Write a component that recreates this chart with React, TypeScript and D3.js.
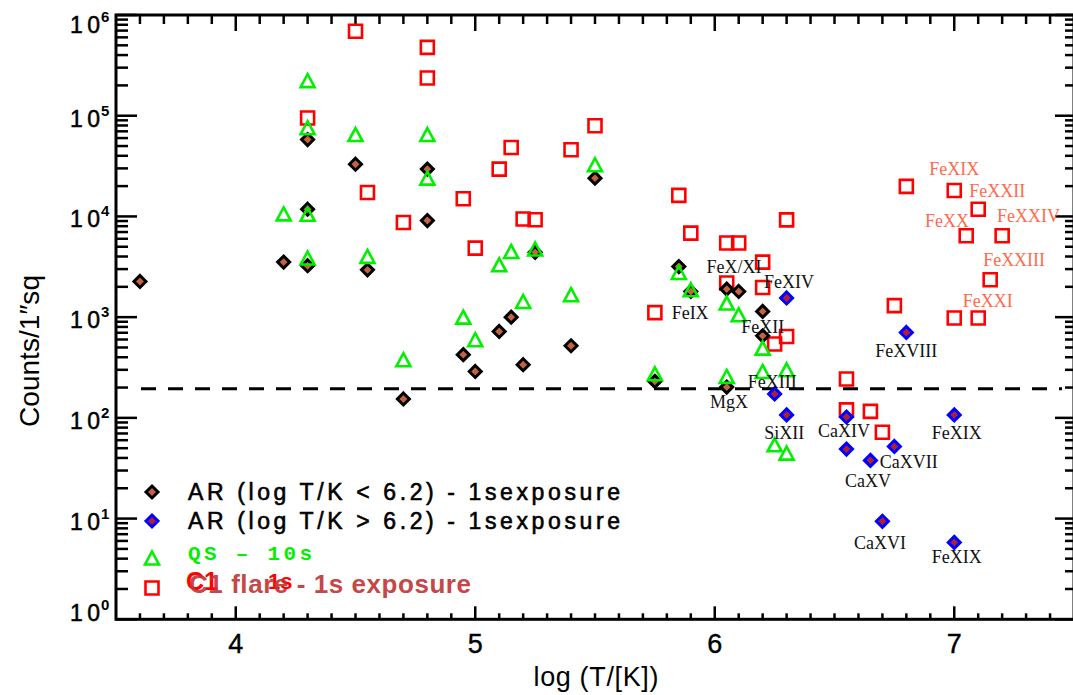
import React from 'react';
import * as d3 from 'd3';

const W = 1073;
const H = 695;

// AR (log T/K < 6.2)
const AR_LOW_T = [3.60, 4.20, 4.30, 4.30, 4.30, 4.50, 4.80, 4.80, 5.50, 4.55, 5.25, 4.70, 4.95, 5.00, 5.10, 5.15, 5.20, 5.40, 5.75, 5.85, 5.90, 6.05, 6.10, 6.20, 6.20, 6.05];
const AR_LOW_C = [2260, 3520, 3240, 5.8e4, 1.18e4, 3.3e4, 2.95e4, 9100, 2.4e4, 2950, 4400, 154, 424, 289, 721, 1000, 337, 520, 230, 3180, 1800, 1900, 1800, 1140, 653, 202];

// AR (log T/K > 6.2)
const AR_HIGH_T = [6.30, 6.80, 6.25, 6.30, 6.55, 6.55, 6.75, 6.65, 7.00, 6.70, 7.00];
const AR_HIGH_C = [1550, 705, 173, 107, 102, 49, 52, 37.8, 107, 9.4, 5.8];

// QS - 10s
const QS_T = [4.20, 4.30, 4.30, 4.30, 4.50, 4.30, 4.80, 4.80, 5.50, 4.55, 4.70, 4.95, 5.00, 5.10, 5.15, 5.20, 5.25, 5.40, 5.75, 5.85, 5.90, 6.05, 6.10, 6.20, 6.05, 6.20, 6.30, 6.25, 6.30];
const QS_C = [1.06e4, 1.05e4, 2.23e5, 7.6e4, 6.5e4, 3860, 6.5e4, 2.4e4, 3.26e4, 4010, 378, 1000, 597, 3310, 4490, 1430, 4750, 1670, 274, 2780, 1870, 1380, 1056, 493, 258, 289, 300, 54, 44.7];

// C1 flare - 1s exposure
const FL_T = [4.50, 4.30, 4.80, 4.80, 4.55, 4.70, 4.95, 5.10, 5.15, 5.20, 5.25, 5.40, 5.50, 5.85, 5.90, 5.00, 5.75, 6.05, 6.10, 6.20, 6.05, 6.20, 6.25, 6.30, 6.55, 6.55, 6.65, 6.70, 6.75, 7.00, 7.10, 7.15, 7.05, 7.20, 6.30, 6.80, 7.00, 7.10];
const FL_C = [6.9e5, 9.5e4, 4.77e5, 2.37e5, 1.73e4, 8700, 1.5e4, 2.95e4, 4.84e4, 9420, 9270, 4.6e4, 7.95e4, 1.62e4, 6830, 4850, 1110, 5450, 5450, 3520, 2180, 1970, 541, 643, 243, 120, 116, 72, 1300, 980, 980, 2350, 6430, 6430, 9250, 1.99e4, 1.81e4, 1.18e4];

// Line labels (black)
const LBL_NAMES = ['FeX/XI', 'FeIX', 'FeXIV', 'FeXII', 'FeXIII', 'MgX', 'SiXII', 'CaXIV', 'FeXIX', 'CaXVII', 'CaXV', 'CaXVI', 'FeXIX', 'FeXVIII'];
const LBL_T = [6.08, 5.82, 6.31, 6.20, 6.24, 6.06, 6.29, 6.54, 7.01, 6.81, 6.64, 6.69, 7.01, 6.80];
const LBL_C = [2740, 960, 1950, 700, 198, 125, 62, 65, 62, 32, 20.7, 5.0, 3.6, 400];
const LBL_ANCHOR = ['middle', 'start', 'middle', 'middle', 'middle', 'middle', 'middle', 'middle', 'middle', 'middle', 'middle', 'middle', 'middle', 'middle'];

// Flare line labels (salmon)
const FLBL_NAMES = ['FeXIX', 'FeXXII', 'FeXXIV', 'FeXX', 'FeXXIII', 'FeXXI'];
const FLBL_T = [7.00, 7.18, 7.31, 6.97, 7.25, 7.14];
const FLBL_C = [25800, 15600, 8900, 7900, 3220, 1260];

const X_MAJOR = [4, 5, 6, 7];
const Y_EXP = [0, 1, 2, 3, 4, 5, 6];
const THRESHOLD = 195;

const LEGEND_AR_LOW = 'AR (log T/K < 6.2) - 1sexposure';
const LEGEND_AR_HIGH = 'AR (log T/K > 6.2) - 1sexposure';
const LEGEND_QS = 'QS \u2013 10s';
const LEGEND_FL = 'C1 flare - 1s exposure';

const L = 116, R = 1074, T = 15, B = 619.3;

const BROWN = '#c4643e';
const DRED = '#b22030';
const GREEN = '#00f000';
const RED = '#ff0000';
const SALMON = '#ff6a4d';

const diamond = (r: number) => `M0,${-r}L${r},0L0,${r}L${-r},0Z`;
const triangle = (w: number, h: number) => `M0,${-h}L${w},${h}L${-w},${h}Z`;
const square = (s: number) => `M${-s / 2},${-s / 2}h${s}v${s}h${-s}Z`;

export default function App() {
  const x = d3.scaleLinear().domain([3.5, 7.5]).range([L, R]);
  const y = d3.scaleLog().domain([1, 1e6]).range([B, T]);

  const xMinor: number[] = d3.range(36, 75).map((v) => v / 10).filter((v) => Math.abs(v - Math.round(v)) > 1e-6);
  const yMinor: number[] = [];
  for (let e = 0; e < 6; e++) for (let k = 2; k <= 9; k++) yMinor.push(k * Math.pow(10, e));

  const sansF = 'Liberation Sans, Arial, sans-serif';
  const serifF = 'Liberation Serif, Times New Roman, serif';

  return (
    <svg width={W} height={H} style={{ position: 'absolute', left: 0, top: 0, display: 'block', background: '#fff' }}>
      <rect x={0} y={0} width={W} height={H} fill="#fff" />
      {/* frame */}
      <rect x={L} y={T} width={R - L} height={B - T} fill="none" stroke="#000" strokeWidth={3} />
      {/* x ticks */}
      {X_MAJOR.map((v) => (
        <g key={'xm' + v}>
          <line x1={x(v)} x2={x(v)} y1={B} y2={B - 13} stroke="#000" strokeWidth={2.5} />
          <line x1={x(v)} x2={x(v)} y1={T} y2={T + 16} stroke="#000" strokeWidth={2.5} />
          <text x={x(v)} y={653} textAnchor="middle" fontFamily={sansF} fontSize={27} fill="#000" stroke="#000" strokeWidth={0.4}>{v}</text>
        </g>
      ))}
      {xMinor.map((v) => (
        <g key={'xn' + v}>
          <line x1={x(v)} x2={x(v)} y1={B} y2={B - 6} stroke="#000" strokeWidth={2.5} />
          <line x1={x(v)} x2={x(v)} y1={T} y2={T + 9} stroke="#000" strokeWidth={2.5} />
        </g>
      ))}
      {/* y ticks */}
      {Y_EXP.map((e) => {
        const py = y(Math.pow(10, e));
        const base = e === 6 ? 33 : e === 0 ? 621 : py + 11;
        return (
          <g key={'ym' + e}>
            <line x1={L} x2={L + 21} y1={py} y2={py} stroke="#000" strokeWidth={2.5} />
            <line x1={R} x2={R - 19} y1={py} y2={py} stroke="#000" strokeWidth={2.5} />
            <text x={70} y={base} fontFamily={sansF} fontSize={23} fill="#000" stroke="#000" strokeWidth={0.5} textLength={30} lengthAdjust="spacing">10</text>
            <text x={101} y={base - 11} fontFamily={sansF} fontSize={15} fontWeight="bold" fill="#000">{e}</text>
          </g>
        );
      })}
      {yMinor.map((v) => (
        <g key={'yn' + v}>
          <line x1={L} x2={L + 12} y1={y(v)} y2={y(v)} stroke="#000" strokeWidth={2.5} />
          <line x1={R} x2={R - 9} y1={y(v)} y2={y(v)} stroke="#000" strokeWidth={2.5} />
        </g>
      ))}
      {/* threshold dashed line */}
      <line x1={141} x2={1062} y1={y(THRESHOLD)} y2={y(THRESHOLD)} stroke="#000" strokeWidth={3} strokeDasharray="15 12" />

      {/* flare squares */}
      {FL_T.map((t, i) => (
        <path key={'fl' + i} d={square(13)} transform={`translate(${x(t)},${y(FL_C[i])})`} fill="none" stroke={RED} strokeWidth={2.6} />
      ))}
      {/* AR low */}
      {AR_LOW_T.map((t, i) => (
        <path key={'al' + i} d={diamond(6)} transform={`translate(${x(t)},${y(AR_LOW_C[i])})`} fill={BROWN} stroke="#000" strokeWidth={3} strokeLinejoin="miter" />
      ))}
      {/* AR high */}
      {AR_HIGH_T.map((t, i) => (
        <path key={'ah' + i} d={diamond(6)} transform={`translate(${x(t)},${y(AR_HIGH_C[i])})`} fill={DRED} stroke="#0000ff" strokeWidth={3} />
      ))}
      {/* QS triangles */}
      {QS_T.map((t, i) => (
        <path key={'qs' + i} d={triangle(7, 6.5)} transform={`translate(${x(t)},${y(QS_C[i])})`} fill="none" stroke={GREEN} strokeWidth={2.6} strokeLinejoin="miter" />
      ))}

      {/* labels */}
      {LBL_NAMES.map((n, i) => (
        <text key={'lb' + i} x={x(LBL_T[i])} y={y(LBL_C[i])} textAnchor={LBL_ANCHOR[i] as any} fontFamily={serifF} fontSize={18} fill="#111">{n}</text>
      ))}
      {FLBL_NAMES.map((n, i) => (
        <text key={'fb' + i} x={x(FLBL_T[i])} y={y(FLBL_C[i])} textAnchor="middle" fontFamily={serifF} fontSize={18} fill={SALMON}>{n}</text>
      ))}

      {/* legend */}
      <path d={diamond(6)} transform="translate(152,492)" fill={BROWN} stroke="#000" strokeWidth={3} />
      <text x={188} y={500} fontFamily={sansF} fontSize={23} fill="#000" stroke="#000" strokeWidth={0.6} textLength={432} lengthAdjust="spacing">{LEGEND_AR_LOW}</text>
      <path d={diamond(6)} transform="translate(152,521)" fill={DRED} stroke="#0000ff" strokeWidth={3} />
      <text x={188} y={529} fontFamily={sansF} fontSize={23} fill="#000" stroke="#000" strokeWidth={0.6} textLength={432} lengthAdjust="spacing">{LEGEND_AR_HIGH}</text>
      <path d={triangle(7, 6.5)} transform="translate(152,558)" fill="none" stroke={GREEN} strokeWidth={2.6} />
      <text x={188} y={560} fontFamily="Liberation Mono, Courier New, monospace" fontWeight="bold" fontSize={21} fill={GREEN} textLength={124} lengthAdjust="spacing" style={{ whiteSpace: 'pre' }}>{LEGEND_QS}</text>
      <path d={square(13)} transform="translate(152,588)" fill="none" stroke={RED} strokeWidth={2.6} />
      <text x={186} y={590} fontFamily={sansF} fontWeight="bold" fontSize={25} fill={RED}>C1</text>
      <text x={268} y={589} fontFamily={sansF} fontWeight="bold" fontSize={22} fill={RED}>1s</text>
      <text x={189} y={593} fontFamily={sansF} fontWeight="bold" fontSize={26} fill="#c03535" fillOpacity={0.93} textLength={282} lengthAdjust="spacing">{LEGEND_FL}</text>

      {/* axis titles */}
      <text x={596} y={686} textAnchor="middle" fontFamily={sansF} fontSize={27} fill="#000" textLength={125} lengthAdjust="spacing">log (T/[K])</text>
      <text transform="translate(39,351) rotate(-90)" textAnchor="middle" fontFamily={sansF} fontSize={28} fill="#000" textLength={152} lengthAdjust="spacing">{'Counts/1\u2033sq'}</text>
    </svg>
  );
}
